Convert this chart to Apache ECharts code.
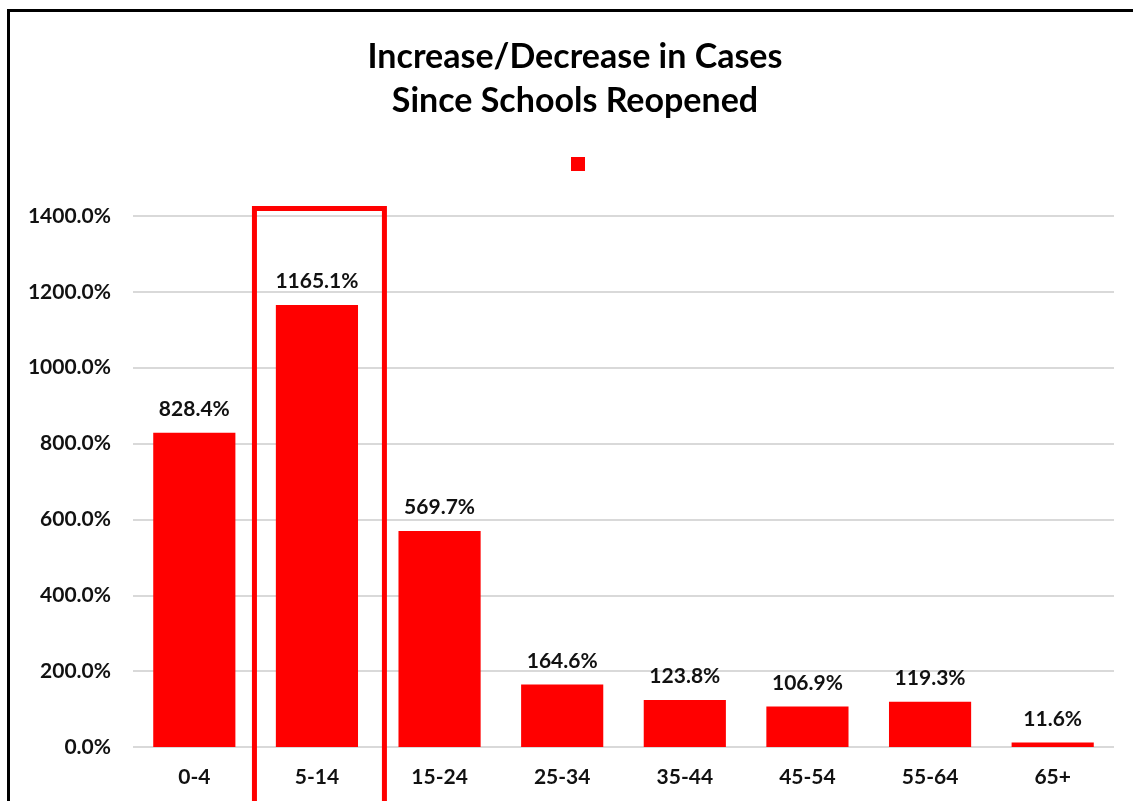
<!DOCTYPE html>
<html>
<head>
<meta charset="utf-8">
<script src="https://cdn.jsdelivr.net/npm/echarts@6/dist/echarts.min.js"></script>
<style>
  html, body { margin: 0; padding: 0; background: #fff; }
  #chart { width: 1133px; height: 801px; }
</style>
</head>
<body>
<div id="chart"></div>
<script>
// Age groups and percentage change in cases since schools reopened
const categories = ['0-4', '5-14', '15-24', '25-34', '35-44', '45-54', '55-64', '65+'];
const changePct = [828.4, 1165.1, 569.7, 164.6, 123.8, 106.9, 119.3, 11.6];
const highlighted = '5-14';
const yMin = 0, yMax = 1400, yStep = 200;

const FONT = 'Lato, "Open Sans", sans-serif';
const chart = echarts.init(document.getElementById('chart'), null, { renderer: 'canvas' });

const option = {
  animation: false,
  backgroundColor: '#ffffff',
  title: {
    text: 'Increase/Decrease in Cases\nSince Schools Reopened',
    left: 575,
    textAlign: 'center',
    top: 35,
    padding: 0,
    textStyle: { fontFamily: FONT, fontSize: 34, fontWeight: 'bold', color: '#000', lineHeight: 44 }
  },
  legend: {
    data: ['Change'],
    left: 571,
    top: 157,
    padding: 0,
    itemWidth: 14,
    itemHeight: 14,
    icon: 'rect',
    itemGap: 0,
    formatter: () => '',
    textStyle: { fontSize: 1 }
  },
  grid: { left: 133, right: 19, top: 216, bottom: 54, containLabel: false },
  xAxis: {
    type: 'category',
    data: categories,
    axisLine: { show: false },
    axisTick: { show: false },
    axisLabel: { margin: 20, fontFamily: FONT, fontSize: 21, fontWeight: 'bold', color: '#111' }
  },
  yAxis: {
    type: 'value',
    min: yMin, max: yMax, interval: yStep,
    axisLine: { show: false },
    axisTick: { show: false },
    splitLine: { lineStyle: { color: '#d9d9d9', width: 2 } },
    axisLabel: {
      margin: 22,
      fontFamily: FONT, fontSize: 21, fontWeight: 'bold', color: '#111',
      formatter: v => v.toFixed(1) + '%'
    }
  },
  series: [{
    name: 'Change',
    type: 'bar',
    data: changePct,
    barCategoryGap: '33%',
    itemStyle: { color: '#ff0000' },
    label: {
      show: true,
      position: 'top',
      distance: 13,
      fontFamily: FONT, fontSize: 21, fontWeight: 'bold', color: '#111',
      formatter: p => p.value.toFixed(1) + '%'
    }
  }]
};

chart.setOption(option);

// Outline box around the highlighted age group, plus the outer frame
function drawOverlays() {
  const idx = categories.indexOf(highlighted);
  const cx = chart.convertToPixel({ xAxisIndex: 0 }, idx);
  const band = chart.convertToPixel({ xAxisIndex: 0 }, 1) - chart.convertToPixel({ xAxisIndex: 0 }, 0);
  const yTop = chart.convertToPixel({ yAxisIndex: 0 }, yMax) - 7.5;
  const w = band * 1.06;
  chart.setOption({
    graphic: [
      {
        type: 'rect',
        shape: { x: 8.5, y: 10.5, width: 1300, height: 1000 },
        style: { fill: 'none', stroke: '#000', lineWidth: 3 },
        z: 100
      },
      {
        type: 'rect',
        shape: { x: cx - w / 2 + 2.5, y: yTop, width: w, height: 800 - yTop + 10 },
        style: { fill: 'none', stroke: '#ff0000', lineWidth: 5 },
        z: 100
      }
    ]
  });
}
drawOverlays();
</script>
</body>
</html>
